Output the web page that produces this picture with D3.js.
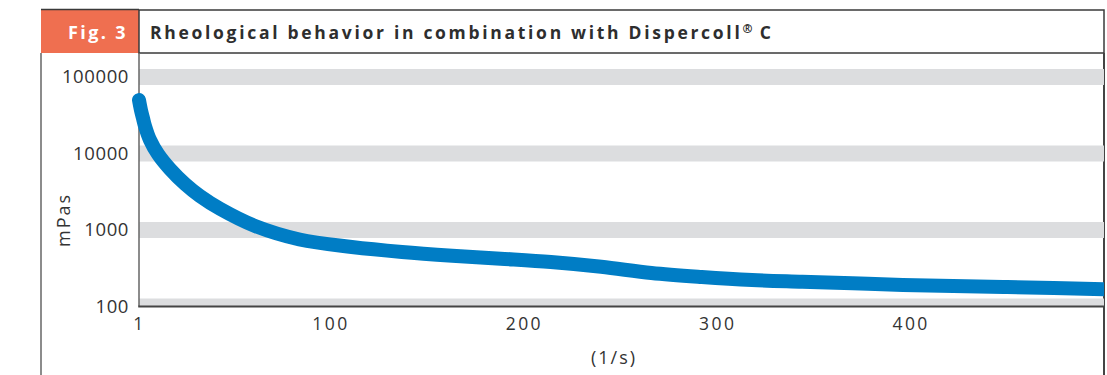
<!DOCTYPE html>
<html>
<head>
<meta charset="utf-8">
<script src="https://cdn.jsdelivr.net/npm/d3@7"></script>
<style>
  body { margin: 0; background: #fff; }
  text { font-family: "Open Sans", "DejaVu Sans", sans-serif; }
</style>
</head>
<body>
<svg id="chart" width="1107" height="375"></svg>
<script>
// shear rate (1/s) and viscosity (mPas)
let shearRate = [1, 2, 3.1, 4.1, 6.7, 10.8, 17, 24.8, 32.5, 43, 61, 84, 111, 137, 163, 188, 214, 240, 266, 292, 318, 344, 370, 396, 422, 448, 474, 500];
let viscosity = [50000, 37100, 28700, 22900, 15000, 9840, 6270, 3990, 2780, 1885, 1128, 751, 600, 516, 461, 422, 382, 331, 274, 243, 222, 211, 201, 191, 185, 180, 175, 168];
let xTicks = [1, 100, 200, 300, 400];
let yTicks = [100, 1000, 10000, 100000];
let figLabel = "Fig. 3";
let title = "Rheological behavior in combination with Dispercoll";

let svg = d3.select("#chart");

let plotLeft = 139, plotRight = 1104, plotTop = 53, plotBottom = 306.5;

let x = d3.scaleLinear().domain([1, 500]).range([plotLeft, plotRight]);
let y = d3.scaleLog().domain([100, 100000]).range([plotBottom, 77]);

// header
svg.append("rect").attr("x", 41).attr("y", 10).attr("width", 98).attr("height", 43)
  .attr("fill", "#ef6f50");
svg.append("rect").attr("x", 139).attr("y", 10).attr("width", 965).attr("height", 43)
  .attr("fill", "none").attr("stroke", "#3a3a3a").attr("stroke-width", 1.5);
svg.append("line").attr("x1", 41).attr("x2", 139).attr("y1", 9.5).attr("y2", 9.5)
  .attr("stroke", "#3a3a3a").attr("stroke-width", 1.5);
svg.append("text").attr("x", 128).attr("y", 39).attr("text-anchor", "end")
  .attr("fill", "#fff").attr("font-size", 18).attr("font-weight", "bold")
  .attr("letter-spacing", 2.4).text(figLabel);
let t = svg.append("text").attr("x", 150).attr("y", 39)
  .attr("fill", "#2e2e2e").attr("font-size", 17.5).attr("font-weight", "bold")
  .attr("letter-spacing", 2.7);
t.append("tspan").text(title);
t.append("tspan").attr("font-size", 12).attr("dy", -6).attr("letter-spacing", 0).text("®");
t.append("tspan").attr("dy", 6).text(" C");

// outer frame sides
svg.append("line").attr("x1", 41).attr("x2", 41).attr("y1", 53).attr("y2", 375)
  .attr("stroke", "#666").attr("stroke-width", 1.5);
svg.append("line").attr("x1", 1104).attr("x2", 1104).attr("y1", 53).attr("y2", 375)
  .attr("stroke", "#444").attr("stroke-width", 2);

// clip to plot
svg.append("clipPath").attr("id", "plotclip").append("rect")
  .attr("x", plotLeft).attr("y", plotTop).attr("width", plotRight - plotLeft).attr("height", plotBottom - plotTop);
svg.append("clipPath").attr("id", "lineclip").append("rect")
  .attr("x", 0).attr("y", 0).attr("width", plotRight).attr("height", plotBottom);

// gray bands at each decade
svg.append("g").attr("clip-path", "url(#plotclip)")
  .selectAll("rect").data(yTicks).join("rect")
  .attr("x", plotLeft).attr("width", plotRight - plotLeft)
  .attr("y", d => y(d) - 8).attr("height", 16)
  .attr("fill", "#dcdddf");

// axes
let yAxis = svg.append("g").attr("transform", `translate(${plotLeft},0)`)
  .call(d3.axisLeft(y).tickValues(yTicks).tickFormat(d3.format("d")).tickSize(0).tickPadding(10));
yAxis.select(".domain").remove();
yAxis.selectAll("text").attr("font-size", 18.5).attr("fill", "#333")
  .attr("letter-spacing", 0.6).attr("font-family", "'Open Sans', sans-serif");

let xAxis = svg.append("g").attr("transform", `translate(0,${plotBottom})`)
  .call(d3.axisBottom(x).tickValues(xTicks).tickSize(0).tickPadding(11));
xAxis.select(".domain").remove();
xAxis.selectAll("text").attr("font-size", 17.5).attr("fill", "#333")
  .attr("letter-spacing", 2.4).attr("font-family", "'Open Sans', sans-serif");

svg.append("line").attr("x1", plotLeft).attr("x2", plotLeft).attr("y1", plotTop).attr("y2", plotBottom)
  .attr("stroke", "#666").attr("stroke-width", 1.5);
svg.append("line").attr("x1", plotLeft - 0.75).attr("x2", plotRight).attr("y1", plotBottom).attr("y2", plotBottom)
  .attr("stroke", "#444").attr("stroke-width", 2.2);

// axis titles
svg.append("text").attr("x", 614).attr("y", 364).attr("text-anchor", "middle")
  .attr("font-size", 18).attr("fill", "#333").attr("letter-spacing", 2).text("(1/s)");
svg.append("text").attr("transform", "translate(70,220) rotate(-90)")
  .attr("text-anchor", "middle").attr("font-size", 18).attr("fill", "#333")
  .attr("letter-spacing", 2).text("mPas");

// viscosity curve
let line = d3.line()
  .x((d, i) => x(shearRate[i]))
  .y(d => y(d))
  .curve(d3.curveCatmullRom.alpha(0.5));

svg.append("path").attr("clip-path", "url(#lineclip)")
  .attr("d", line(viscosity))
  .attr("fill", "none").attr("stroke", "#007dc5").attr("stroke-width", 14)
  .attr("stroke-linecap", "round").attr("stroke-linejoin", "round");
</script>
</body>
</html>
